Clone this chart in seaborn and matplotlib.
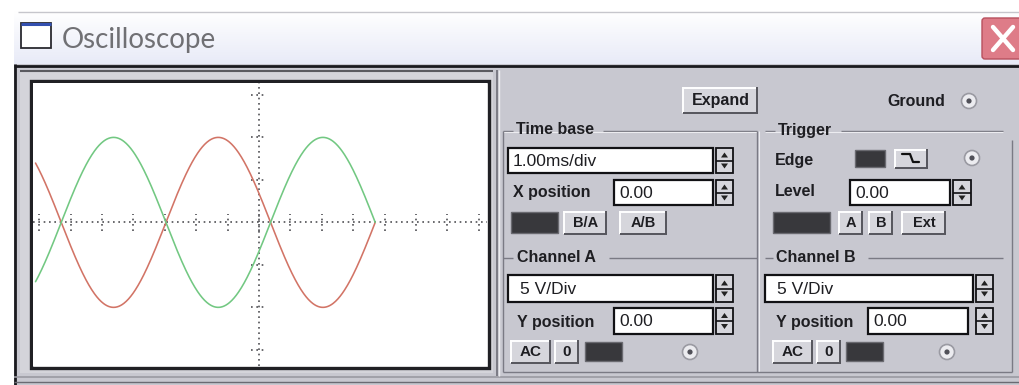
import numpy as np
import pandas as pd
import matplotlib
matplotlib.use("Agg")
import matplotlib.pyplot as plt
from matplotlib.patches import Rectangle, Circle, FancyBboxPatch, Polygon
import seaborn as sns

# ---- signal settings shown on the scope ----
CHANNELS = ["Channel A", "Channel B"]
AMPLITUDE_V = [10.0, 10.0]
PHASE_DEG = [180.0, 0.0]
FREQUENCY_HZ = 300.0
ZERO_CROSS_MS = -3.15        # first zero crossing of the traces
TRACE_START_MS = -3.56
TRACE_END_MS = 1.85
X_TICKS_MS = [-3.5, -3.0, -2.5, -2.0, -1.5, -1.0, -0.5, 0.0,
              0.5, 1.0, 1.5, 2.0, 2.5, 3.0, 3.5]
Y_TICKS_V = [-15, -10, -5, 5, 10, 15]
TRACE_COLORS = ["#d27466", "#72c882"]

# ---- panel texts ----
TITLE = "Oscilloscope"
TIMEBASE_TEXT = "1.00ms/div"
XPOS_TEXT = "0.00"
LEVEL_TEXT = "0.00"
CH_A_SCALE = "5 V/Div"
CH_B_SCALE = "5 V/Div"
CH_A_YPOS = "0.00"
CH_B_YPOS = "0.00"

W, H = 1019, 385
BODY = "#c8c8d0"
BTN = "#d6d6dc"
DARK = "#38383c"

sns.set_theme(style="white")
plt.rcParams["font.family"] = ["Liberation Sans", "DejaVu Sans"]

fig = plt.figure(figsize=(W / 100, H / 100), dpi=100)
fig.patch.set_facecolor("white")

ui = fig.add_axes([0, 0, 1, 1])
ui.set_xlim(0, W)
ui.set_ylim(H, 0)
ui.axis("off")


def rect(x0, y0, x1, y1, fc="none", ec="none", lw=1.0, z=1):
    ui.add_patch(Rectangle((x0, y0), x1 - x0, y1 - y0, facecolor=fc,
                           edgecolor=ec, linewidth=lw, zorder=z))


def hline(x0, x1, y, c, lw=1.0, z=2):
    ui.plot([x0, x1], [y, y], color=c, lw=lw, zorder=z, solid_capstyle="butt")


def vline(x, y0, y1, c, lw=1.0, z=2):
    ui.plot([x, x], [y0, y1], color=c, lw=lw, zorder=z, solid_capstyle="butt")


def label(x, y, s, size=11.5, weight="bold", ha="left", color="#1e1e22", z=5):
    ui.text(x, y, s, fontsize=size, fontweight=weight, ha=ha, va="center",
            color=color, zorder=z)


def button(x0, y0, x1, y1, s=None, size=11):
    rect(x0, y0, x1, y1, fc=BTN, z=3)
    hline(x0, x1, y0 + 0.5, "white", 1.4, 4)
    vline(x0 + 0.5, y0, y1, "white", 1.4, 4)
    hline(x0, x1, y1 - 0.5, "#55555c", 1.4, 4)
    vline(x1 - 0.5, y0, y1, "#55555c", 1.4, 4)
    if s:
        label((x0 + x1) / 2, (y0 + y1) / 2 + 0.5, s, size=size, ha="center")


def field(x0, y0, x1, y1, s, size=12.5, pad=5):
    rect(x0, y0, x1, y1, fc="white", ec="#111114", lw=1.6, z=3)
    label(x0 + pad, (y0 + y1) / 2 + 1, s, size=size, weight="normal")


def spinner(x0, y0, x1, y1):
    rect(x0, y0, x1, y1, fc=BTN, ec="#111114", lw=1.3, z=3)
    ym = (y0 + y1) / 2
    hline(x0, x1, ym, "#111114", 1.2, 4)
    cx = (x0 + x1) / 2
    ui.add_patch(Polygon([[cx - 3.5, ym - 3], [cx + 3.5, ym - 3], [cx, ym - 8]],
                         closed=True, fc="#222", ec="none", zorder=4))
    ui.add_patch(Polygon([[cx - 3.5, ym + 3], [cx + 3.5, ym + 3], [cx, ym + 8]],
                         closed=True, fc="#222", ec="none", zorder=4))


def swatch(x0, y0, x1, y1):
    rect(x0, y0, x1, y1, fc=DARK, ec="#6a6a70", lw=1.0, z=3)


def radio(cx, cy):
    ui.add_patch(Circle((cx, cy), 7.5, fc="#ececf0", ec="#9a9aa2", lw=1.2, zorder=3))
    ui.add_patch(Circle((cx, cy), 2.6, fc="#505058", ec="none", zorder=4))


def group(x0, y0, x1, y1, text, text_w):
    hline(x0, x0 + 10, y0, "#7a7a84", 1.0)
    hline(x0 + 14 + text_w, x1, y0, "#7a7a84", 1.0)
    hline(x0, x1, y0 + 1.3, "#ececf0", 0.8)
    label(x0 + 13, y0 - 1, text, size=11.5)


# ---- window title bar ----
title_grad = np.linspace(0, 1, 64).reshape(-1, 1)
ui.imshow(np.dstack([1 - 0.09 * title_grad, 1 - 0.08 * title_grad,
                     1 - 0.03 * title_grad]),
          extent=(14, W, 64, 11), aspect="auto", zorder=0.5)
hline(18, W, 11.5, "#c6c6cc", 1.0, 1)
rect(21, 23, 51, 48, fc="white", ec="#2a2a30", lw=1.3, z=2)
hline(21, 51, 23.5, "#3350b0", 2.2, 3)
ui.text(62, 40, TITLE, fontsize=20, color="#707074", ha="left", va="center",
        family=["Lato", "DejaVu Sans"], zorder=3)
ui.add_patch(FancyBboxPatch((982, 18), 40, 41, boxstyle="round,pad=0,rounding_size=3",
                            fc="#de7c88", ec="#b8505e", lw=1.0, zorder=3))
ui.plot([993, 1013], [27, 50], color="white", lw=3.2, zorder=4)
ui.plot([993, 1013], [50, 27], color="white", lw=3.2, zorder=4)

# ---- window body ----
rect(14, 64, W, H, fc=BODY, z=0.8)
hline(14, W, 65.5, "#1a1a1e", 2.0, 2)
vline(15, 64, H, "#1a1a1e", 2.0, 2)
hline(14, W, 377, "#9a9aa2", 1.2, 2)
hline(14, W, 382, "#6a6a72", 1.0, 2)

# scope screen frame
rect(20, 70, 493, 373, fc="#d4d4da", z=1)
hline(20, 493, 70.5, "#5a5a60", 1.5, 2)
rect(31, 81, 489, 368, fc="white", ec="#202024", lw=2.4, z=2)
vline(497, 70, 376, "#7a7a84", 1.4, 2)
vline(499, 70, 376, "#ececf0", 1.0, 2)

# ---- control panel ----
button(683, 87, 758, 113, "Expand", size=11.5)
label(945, 101, "Ground", ha="right")
radio(969, 101)

group(503, 131, 757, 372, "Time base", 86)
group(765, 131, 1003, 372, "Trigger", 62)
vline(503, 131, 372, "#7a7a84", 1.0)
vline(757, 131, 372, "#7a7a84", 1.0)
vline(759, 131, 372, "#ececf0", 0.8)
vline(1012, 140, 372, "#7a7a84", 1.0)
hline(503, 1012, 372, "#7a7a84", 1.0)

field(508, 148, 713, 173, TIMEBASE_TEXT)
spinner(716, 148, 733, 173)
label(513, 192, "X position")
field(614, 180, 713, 205, XPOS_TEXT)
spinner(716, 180, 733, 205)
swatch(511, 212, 558, 233)
button(564, 211, 607, 234, "B/A", size=10.5)
button(620, 211, 667, 234, "A/B", size=10.5)

label(775, 160, "Edge")
swatch(855, 150, 885, 167)
button(895, 149, 928, 168)
ui.plot([902, 910, 913, 919], [154, 154, 162, 162], color="#111", lw=1.6, zorder=5)
radio(972, 158)
label(775, 192, "Level")
field(850, 180, 950, 205, LEVEL_TEXT)
spinner(953, 180, 971, 205)
swatch(773, 212, 830, 233)
button(839, 211, 863, 234, "A", size=10.5)
button(869, 211, 893, 234, "B", size=10.5)
button(902, 211, 946, 234, "Ext", size=10.5)

hline(503, 513, 258, "#7a7a84", 1.0)
hline(609, 757, 258, "#7a7a84", 1.0)
label(517, 257, "Channel A")
field(508, 275, 713, 302, CH_A_SCALE, pad=12)
spinner(716, 275, 733, 302)
label(517, 322, "Y position")
field(614, 308, 713, 334, CH_A_YPOS)
spinner(716, 308, 733, 334)
button(511, 340, 551, 363, "AC", size=11)
button(555, 340, 579, 363, "0", size=11)
swatch(585, 342, 622, 361)
radio(690, 352)

hline(765, 773, 258, "#7a7a84", 1.0)
hline(868, 1003, 258, "#7a7a84", 1.0)
label(776, 257, "Channel B")
field(765, 275, 973, 302, CH_B_SCALE, pad=12)
spinner(976, 275, 993, 302)
label(776, 322, "Y position")
field(868, 308, 968, 334, CH_B_YPOS)
spinner(976, 308, 993, 334)
button(773, 340, 813, 363, "AC", size=11)
button(817, 340, 841, 363, "0", size=11)
swatch(846, 342, 883, 361)
radio(947, 352)

# ---- scope traces ----
scope = fig.add_axes([33 / W, (H - 366) / H, 454 / W, 283 / H])
scope.set_facecolor("white")

t_ms = np.linspace(TRACE_START_MS, TRACE_END_MS, 600)
frames = []
for name, amp, ph in zip(CHANNELS, AMPLITUDE_V, PHASE_DEG):
    v = amp * np.sin(2 * np.pi * FREQUENCY_HZ * (t_ms - ZERO_CROSS_MS) / 1000.0
                     + np.deg2rad(ph))
    frames.append(pd.DataFrame({"time_ms": t_ms, "volts": v, "channel": name}))
traces = pd.concat(frames, ignore_index=True)

sns.lineplot(data=traces, x="time_ms", y="volts", hue="channel",
             palette=TRACE_COLORS, linewidth=1.15, legend=False, ax=scope,
             zorder=3)

# dotted centre graticule with tick marks
dot = dict(color="#505055", linewidth=1.2, linestyle=(0, (1, 2.2)), zorder=2)
scope.axhline(0, **dot)
scope.axvline(0, **dot)
scope.vlines(X_TICKS_MS, -1.0, 1.0, **dot)
scope.hlines(Y_TICKS_V, -0.13, 0.13, **dot)

scope.set_xlim(-3.6, 3.63)
scope.set_ylim(-16.9, 16.4)
scope.set_xticks([])
scope.set_yticks([])
scope.set_xlabel("")
scope.set_ylabel("")
for sp in scope.spines.values():
    sp.set_visible(False)

fig.savefig("out.png", dpi=100)
